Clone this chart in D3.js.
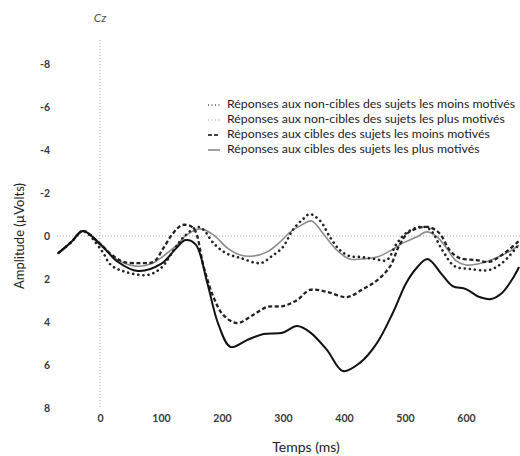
<!DOCTYPE html>
<html><head><meta charset="utf-8">
<script src="https://cdn.jsdelivr.net/npm/d3@7/dist/d3.min.js"></script>
<style>body{margin:0;background:#fff}svg{display:block}</style>
</head><body>
<svg id="c" width="520" height="456"></svg>
<script>
// time (ms) samples and amplitude values (µV), positive plotted downward
const timesSolid = [-68,-47,-28,2,29,62,100,124,140,157,176,194,214,241,268,299,323,344,372,398,426,454,480,502,519,537,561,578,600,622,641,659,675,687];
const ciblesPlus = [0.79,0.28,-0.23,0.42,1.2,1.63,1.3,0.6,0.19,0.4,2.2,4.1,5.16,4.84,4.56,4.5,4.19,4.47,5.3,6.28,5.9,4.98,3.58,2.19,1.49,1.07,1.81,2.33,2.47,2.84,2.93,2.65,2.05,1.44];

const timesDashed = [-68,-47,-28,-3,18,38,67,88,104,119,135,153,170,186,202,225,251,274,300,323,344,372,405,431,453,475,491,507,537,556,573,589,617,638,659,687];
const ciblesMoins = [0.79,0.28,-0.23,0.28,0.84,1.2,1.26,1.2,0.56,-0.1,-0.51,-0.37,1.44,2.84,3.67,4.05,3.67,3.3,3.26,2.98,2.51,2.6,2.84,2.47,2.09,1.44,0.42,-0.19,-0.42,-0.14,0.65,1.02,1.12,1.2,0.88,0.23];

const timesDotted = [-68,-47,-28,2,18,42,78,100,121,137,160,170,186,206,230,263,282,300,316,333,344,361,377,393,409,429,450,470,486,502,524,540,561,581,605,638,659,682,687];
const nonCiblesMoins = [0.79,0.28,-0.23,0.65,1.35,1.67,1.81,1.49,0.65,0.05,-0.42,-0.28,0.33,0.79,1.02,1.26,0.93,0.51,-0.28,-0.79,-1.02,-0.7,0.05,0.65,0.93,0.98,1.07,1.12,0.37,-0.14,-0.42,-0.33,0.65,1.4,1.53,1.58,1.26,0.56,0.37];

const timesGray = [-68,-47,-28,2,29,59,83,104,124,144,165,186,209,230,251,274,295,312,328,347,365,388,409,429,454,478,496,519,535,551,568,584,600,626,649,670,687];
const nonCiblesPlus = [0.79,0.28,-0.23,0.47,1.12,1.4,1.3,0.93,0.47,-0.09,-0.33,-0.05,0.56,0.88,0.93,0.74,0.28,-0.19,-0.47,-0.7,-0.14,0.65,1.07,1.07,0.98,0.65,0.33,0.05,-0.19,0,0.56,1.16,1.35,1.26,1.02,0.74,0.42];

const xTicks = [0,100,200,300,400,500,600];
const yTicks = [-8,-6,-4,-2,0,2,4,6,8];
const legendLabels = [
  "Réponses aux non-cibles des sujets les moins motivés",
  "Réponses aux non-cibles des sujets les plus motivés",
  "Réponses aux cibles des sujets les moins motivés",
  "Réponses aux cibles des sujets les plus motivés"
];

const svg = d3.select("#c");
const x = d3.scaleLinear().domain([0,600]).range([100,466]);
const y = d3.scaleLinear().domain([-8,8]).range([64,408]);
const font = "Lato, 'Open Sans', sans-serif";

// reference lines
svg.append("line").attr("x1",57).attr("x2",520).attr("y1",y(0)).attr("y2",y(0))
  .attr("stroke","#aaa").attr("stroke-width",1).attr("stroke-dasharray","1,2");
svg.append("line").attr("x1",x(0)).attr("x2",x(0)).attr("y1",40).attr("y2",408)
  .attr("stroke","#aaa").attr("stroke-width",1).attr("stroke-dasharray","1,2");

// axes
const yAxis = svg.append("g").attr("transform","translate(50,0)")
  .call(d3.axisLeft(y).tickValues(yTicks).tickSize(0).tickPadding(0).tickFormat(d=>String(d)));
yAxis.select(".domain").remove();
yAxis.selectAll("text").attr("font-family",font).attr("font-size",10.5).attr("font-weight","bold").attr("fill","#3a3a3a");

const xAxis = svg.append("g").attr("transform","translate(0,415)")
  .call(d3.axisBottom(x).tickValues(xTicks).tickSize(0).tickPadding(0).tickFormat(d=>String(d)));
xAxis.select(".domain").remove();
xAxis.selectAll("text").attr("font-family",font).attr("font-size",10.5).attr("font-weight","bold").attr("fill","#3a3a3a");

// labels
svg.append("text").attr("x",100).attr("y",22).attr("text-anchor","middle")
  .attr("font-family",font).attr("font-style","italic").attr("font-size",12).attr("fill","#555").text("Cz");
svg.append("text").attr("transform","translate(24,236) rotate(-90)").attr("text-anchor","middle")
  .attr("font-family",font).attr("font-size",13).attr("fill","#222").text("Amplitude (µVolts)");
svg.append("text").attr("x",306).attr("y",452).attr("text-anchor","middle")
  .attr("font-family",font).attr("font-size",14).attr("fill","#222").text("Temps (ms)");

// curves
const line = d3.line().x(d=>x(d[0])).y(d=>y(d[1])).curve(d3.curveCatmullRom.alpha(0.5));
const zip = (t,v)=>t.map((d,i)=>[d,v[i]]);
const g = svg.append("g");
g.append("path").datum(zip(timesGray,nonCiblesPlus)).attr("d",line)
  .attr("fill","none").attr("stroke","#8c8c8c").attr("stroke-width",1.6);
g.append("path").datum(zip(timesDotted,nonCiblesMoins)).attr("d",line)
  .attr("fill","none").attr("stroke","#222").attr("stroke-width",2.6)
  .attr("stroke-linecap","round").attr("stroke-dasharray","0.1,5");
g.append("path").datum(zip(timesDashed,ciblesMoins)).attr("d",line)
  .attr("fill","none").attr("stroke","#222").attr("stroke-width",2.3).attr("stroke-dasharray","4,2.5");
g.append("path").datum(zip(timesSolid,ciblesPlus)).attr("d",line)
  .attr("fill","none").attr("stroke","#111").attr("stroke-width",2);

// legend
const lg = svg.append("g");
const ly = [104,119,134,149];
const styles = [
  {stroke:"#555",w:1.6,dash:"1,2.5"},
  {stroke:"#bbb",w:1.6,dash:"1,2.5"},
  {stroke:"#444",w:1.8,dash:"4,2"},
  {stroke:"#888",w:1.6,dash:null}
];
legendLabels.forEach((t,i)=>{
  const s = styles[i];
  const ln = lg.append("line").attr("x1",208).attr("x2",220).attr("y1",ly[i]+1).attr("y2",ly[i]+1)
    .attr("stroke",s.stroke).attr("stroke-width",s.w);
  if (s.dash) ln.attr("stroke-dasharray",s.dash);
  lg.append("text").attr("x",227).attr("y",ly[i]+4).attr("font-family",font).attr("font-size",12.3)
    .attr("fill","#222").text(t);
});
</script>
</body></html>
